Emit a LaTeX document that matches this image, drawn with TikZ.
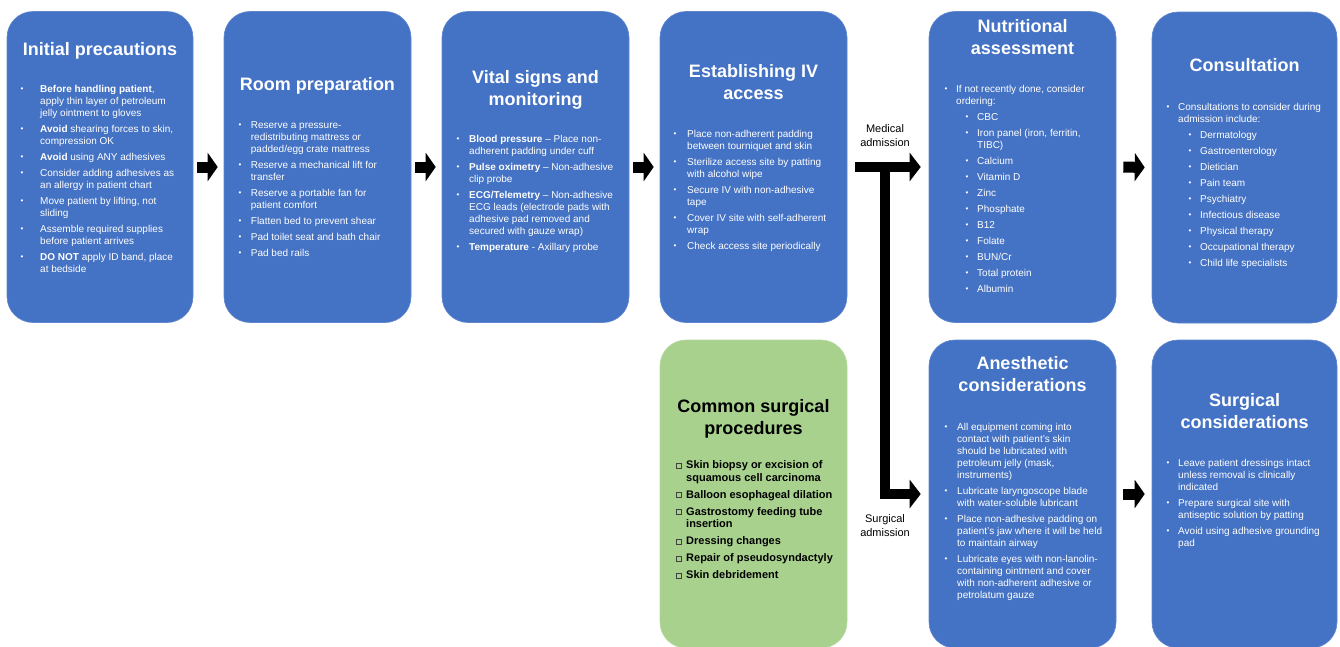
\documentclass[tikz,border=0pt]{standalone}
\usepackage{fontspec}
\setmainfont{Liberation Sans}
\usetikzlibrary{arrows.meta}
\definecolor{boxblue}{HTML}{4472C4}
\definecolor{boxgreen}{HTML}{A9D18E}
\newcommand\bu{\raisebox{0.6pt}{\fontsize{8}{8}\selectfont\textbullet}}
\newcommand\sqbox{\raisebox{0.8pt}{\setlength\fboxsep{0pt}\setlength\fboxrule{0.5pt}\fcolorbox{darkgray}{boxgreen}{\rule{0pt}{4.5pt}\rule{4.5pt}{0pt}}}}
\tikzset{
  bbox/.style={rounded corners=26pt, fill=boxblue, draw=boxblue!85!white, line width=0.6pt, minimum height=311pt, inner sep=0pt},
  gbox/.style={rounded corners=26pt, fill=boxgreen, draw=boxgreen!85!white, line width=0.6pt, minimum height=308pt, inner sep=0pt},
  ttl/.style={text=white, font=\fontsize{18}{22}\selectfont\bfseries, inner sep=0pt, anchor=base},
  lst/.style={text=white, font=\fontsize{10}{12}\selectfont, inner sep=0pt, anchor=base west},
  smallarrow/.style={line width=11pt, -{Triangle[width=28pt,length=10pt]}},
  bigarrow/.style={line width=10pt, line join=miter, -{Triangle[width=28pt,length=11pt]}},
  lab/.style={font=\fontsize{11}{14}\selectfont, inner sep=0pt, anchor=base}
}
\begin{document}
\begin{tikzpicture}[x=1pt,y=-1pt]
\useasboundingbox (0,0) rectangle (1340,646);
\clip (0,0) rectangle (1340,646);
\fill[white] (0,0) rectangle (1340,646);

% boxes
\node[bbox, minimum width=186pt] (b1) at (100,167) {};
\node[bbox, minimum width=187pt] (b2) at (317.5,167) {};
\node[bbox, minimum width=187pt] (b3) at (535.5,167) {};
\node[bbox, minimum width=187pt] (b4) at (753.5,167) {};
\node[bbox, minimum width=187pt] (b5) at (1022.5,167) {};
\node[bbox, minimum width=185pt] (b6) at (1244.5,167.5) {};
\node[gbox, minimum width=187pt] (b7) at (753.5,494) {};
\node[bbox, minimum width=187pt, minimum height=308pt] (b8) at (1022.5,494) {};
\node[bbox, minimum width=185pt, minimum height=308pt] (b9) at (1244.5,494) {};

% titles
\node[ttl] (t1) at (100,55) {Initial precautions};
\node[ttl] (t2) at (317.5,90) {Room preparation};
\node[ttl] (t3) at (535.5,83) {\begin{tabular}[t]{@{}c@{}}Vital signs and\\monitoring\end{tabular}};
\node[ttl] (t4) at (753.5,77) {\begin{tabular}[t]{@{}c@{}}Establishing IV\\access\end{tabular}};
\node[ttl] (t5) at (1022.5,32) {\begin{tabular}[t]{@{}c@{}}Nutritional\\assessment\end{tabular}};
\node[ttl] (t6) at (1244.5,71) {Consultation};
\node[ttl, text=black] (t7) at (753.5,412) {\begin{tabular}[t]{@{}c@{}}Common surgical\\procedures\end{tabular}};
\node[ttl] (t8) at (1022.5,369) {\begin{tabular}[t]{@{}c@{}}Anesthetic\\considerations\end{tabular}};
\node[ttl] (t9) at (1244.5,406) {\begin{tabular}[t]{@{}c@{}}Surgical\\considerations\end{tabular}};

% lists
\node[lst] (l1) at (20.5,92.5) {\begin{tabular}[t]{@{}p{19.5pt}@{}l@{}}
\bu & \textbf{Before handling patient}, \\
 & apply thin layer of petroleum \\
 & jelly ointment to gloves \\[4pt]
\bu & \textbf{Avoid} shearing forces to skin, \\
 & compression OK \\[4pt]
\bu & \textbf{Avoid} using ANY adhesives \\[4pt]
\bu & Consider adding adhesives as \\
 & an allergy in patient chart \\[4pt]
\bu & Move patient by lifting, not \\
 & sliding \\[4pt]
\bu & Assemble required supplies \\
 & before patient arrives \\[4pt]
\bu & \textbf{DO NOT} apply ID band, place \\
 & at bedside
\end{tabular}};

\node[lst] (l2) at (238.5,128.5) {\begin{tabular}[t]{@{}p{12.2pt}@{}l@{}}
\bu & Reserve a pressure- \\
 & redistributing mattress or \\
 & padded/egg crate mattress \\[4pt]
\bu & Reserve a mechanical lift for \\
 & transfer \\[4pt]
\bu & Reserve a portable fan for \\
 & patient comfort \\[4pt]
\bu & Flatten bed to prevent shear \\[4pt]
\bu & Pad toilet seat and bath chair \\[4pt]
\bu & Pad bed rails
\end{tabular}};

\node[lst] (l3) at (456.5,142.5) {\begin{tabular}[t]{@{}p{12.5pt}@{}l@{}}
\bu & \textbf{Blood pressure} – Place non- \\
 & adherent padding under cuff \\[4pt]
\bu & \textbf{Pulse oximetry} – Non-adhesive \\
 & clip probe \\[4pt]
\bu & \textbf{ECG/Telemetry} – Non-adhesive \\
 & ECG leads (electrode pads with \\
 & adhesive pad removed and \\
 & secured with gauze wrap) \\[4pt]
\bu & \textbf{Temperature} - Axillary probe
\end{tabular}};

\node[lst] (l4) at (673.5,137.5) {\begin{tabular}[t]{@{}p{13.5pt}@{}l@{}}
\bu & Place non-adherent padding \\
 & between tourniquet and skin \\[4pt]
\bu & Sterilize access site by patting \\
 & with alcohol wipe \\[4pt]
\bu & Secure IV with non-adhesive \\
 & tape \\[4pt]
\bu & Cover IV site with self-adherent \\
 & wrap \\[4pt]
\bu & Check access site periodically
\end{tabular}};

\node[lst] (l5) at (944.5,92.5) {\begin{tabular}[t]{@{}p{11.5pt}@{}p{21pt}@{}l@{}}
\bu & \multicolumn{2}{@{}l@{}}{If not recently done, consider} \\
 & \multicolumn{2}{@{}l@{}}{ordering:} \\[4pt]
 & \hspace*{9.5pt}\bu & CBC \\[4pt]
 & \hspace*{9.5pt}\bu & Iron panel (iron, ferritin, \\
 & & TIBC) \\[4pt]
 & \hspace*{9.5pt}\bu & Calcium \\[4pt]
 & \hspace*{9.5pt}\bu & Vitamin D \\[4pt]
 & \hspace*{9.5pt}\bu & Zinc \\[4pt]
 & \hspace*{9.5pt}\bu & Phosphate \\[4pt]
 & \hspace*{9.5pt}\bu & B12 \\[4pt]
 & \hspace*{9.5pt}\bu & Folate \\[4pt]
 & \hspace*{9.5pt}\bu & BUN/Cr \\[4pt]
 & \hspace*{9.5pt}\bu & Total protein \\[4pt]
 & \hspace*{9.5pt}\bu & Albumin
\end{tabular}};

\node[lst] (l6) at (1166.5,110.5) {\begin{tabular}[t]{@{}p{11.5pt}@{}p{22pt}@{}l@{}}
\bu & \multicolumn{2}{@{}l@{}}{Consultations to consider during} \\
 & \multicolumn{2}{@{}l@{}}{admission include:} \\[4pt]
 & \hspace*{10.5pt}\bu & Dermatology \\[4pt]
 & \hspace*{10.5pt}\bu & Gastroenterology \\[4pt]
 & \hspace*{10.5pt}\bu & Dietician \\[4pt]
 & \hspace*{10.5pt}\bu & Pain team \\[4pt]
 & \hspace*{10.5pt}\bu & Psychiatry \\[4pt]
 & \hspace*{10.5pt}\bu & Infectious disease \\[4pt]
 & \hspace*{10.5pt}\bu & Physical therapy \\[4pt]
 & \hspace*{10.5pt}\bu & Occupational therapy \\[4pt]
 & \hspace*{10.5pt}\bu & Child life specialists
\end{tabular}};

\node[lst, text=black, font=\fontsize{11}{12.5}\selectfont\bfseries] (l7) at (676,468.5) {\begin{tabular}[t]{@{}p{10pt}@{}l@{}}
\sqbox & Skin biopsy or excision of \\
 & squamous cell carcinoma \\[4.5pt]
\sqbox & Balloon esophageal dilation \\[4.5pt]
\sqbox & Gastrostomy feeding tube \\
 & insertion \\[4.5pt]
\sqbox & Dressing changes \\[4.5pt]
\sqbox & Repair of pseudosyndactyly \\[4.5pt]
\sqbox & Skin debridement
\end{tabular}};

\node[lst] (l8) at (944.5,430.5) {\begin{tabular}[t]{@{}p{12.5pt}@{}l@{}}
\bu & All equipment coming into \\
 & contact with patient’s skin \\
 & should be lubricated with \\
 & petroleum jelly (mask, \\
 & instruments) \\[4pt]
\bu & Lubricate laryngoscope blade \\
 & with water-soluble lubricant \\[4pt]
\bu & Place non-adhesive padding on \\
 & patient’s jaw where it will be held \\
 & to maintain airway \\[4pt]
\bu & Lubricate eyes with non-lanolin- \\
 & containing ointment and cover \\
 & with non-adherent adhesive or \\
 & petrolatum gauze
\end{tabular}};

\node[lst] (l9) at (1166.5,466.5) {\begin{tabular}[t]{@{}p{11.5pt}@{}l@{}}
\bu & Leave patient dressings intact \\
 & unless removal is clinically \\
 & indicated \\[4pt]
\bu & Prepare surgical site with \\
 & antiseptic solution by patting \\[4pt]
\bu & Avoid using adhesive grounding \\
 & pad
\end{tabular}};

% small arrows
\draw[smallarrow, shorten <=4pt, shorten >=6pt] (b1.east) -- (b2.west);
\draw[smallarrow, shorten <=4pt, shorten >=6pt] (b2.east) -- (b3.west);
\draw[smallarrow, shorten <=4pt, shorten >=6pt] (b3.east) -- (b4.west);
\draw[smallarrow, shorten <=7pt, shorten >=7pt] (b5.east) -- (b6.west);
\draw[smallarrow, shorten <=7pt, shorten >=7pt] (b8.east) -- (b9.west);

% admission arrows
\coordinate (j) at (885,167);
\draw[bigarrow, shorten <=8pt, shorten >=8pt] (b4.east) -- (b5.west);
\draw[bigarrow, shorten >=8pt] (j) |- (b8.west);

% labels
\node[lab] (med) at (885,132) {\begin{tabular}[t]{@{}c@{}}Medical\\admission\end{tabular}};
\node[lab] (surg) at (885,522) {\begin{tabular}[t]{@{}c@{}}Surgical\\admission\end{tabular}};
\end{tikzpicture}
\end{document}
